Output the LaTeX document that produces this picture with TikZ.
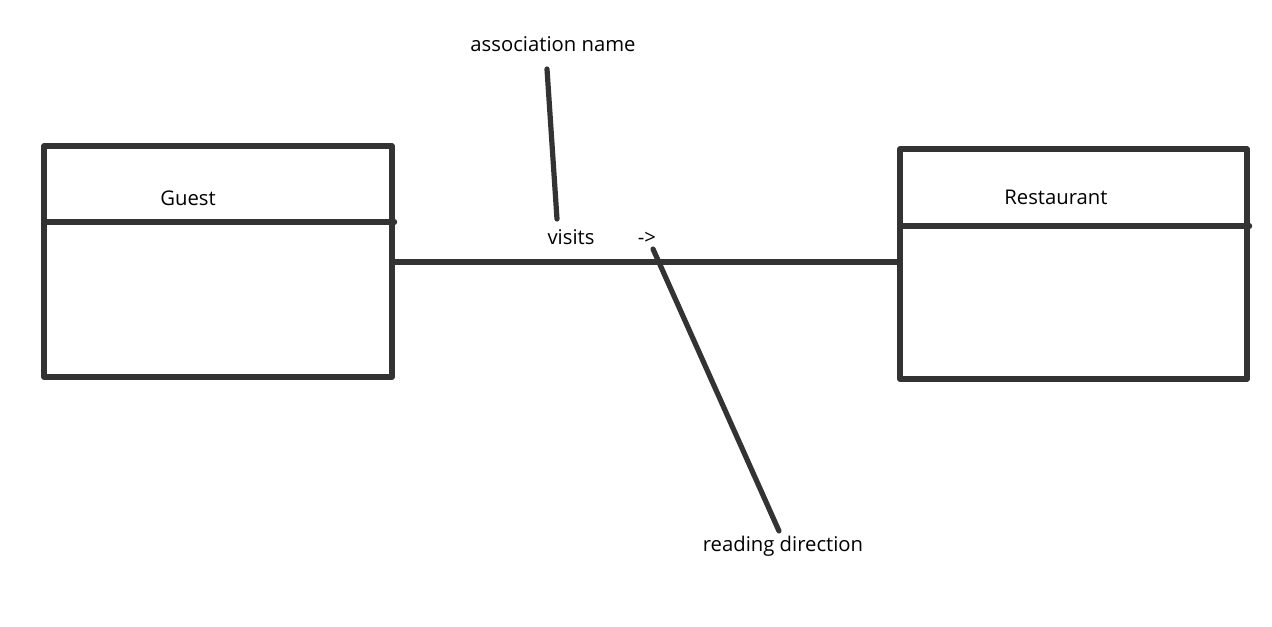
\documentclass[tikz,border=0pt]{standalone}
\usepackage{fontspec}
\setmainfont{Open Sans}
\definecolor{ink}{HTML}{333333}
\begin{document}
\begin{tikzpicture}[x=0.75pt,y=-0.75pt,
  thick line/.style={draw=ink,line width=3.9pt,line cap=round,line join=round},
  classbox/.style={thick line,rectangle,inner sep=0pt},
  lbl/.style={font=\fontsize{15.2pt}{17pt}\selectfont,text=black,inner sep=0pt}]
\useasboundingbox (0,0) rectangle (1272,626);
% class boxes
\node[classbox,minimum width=348*0.75pt,minimum height=231*0.75pt] (guest) at (218,261.5) {};
\node[classbox,minimum width=347*0.75pt,minimum height=230*0.75pt] (rest) at (1073.5,264) {};
\draw[thick line] ([xshift=2pt]guest.west |- 0,222) -- (guest.east |- 0,222);
\draw[thick line] ([xshift=2pt]rest.west |- 0,226) -- (rest.east |- 0,226);
% labels
\node[lbl] (gname) at (188,198) {Guest};
\node[lbl] (rname) at (1056,197) {Restaurant};
\node[lbl] (assoc) at (553,44) {association name};
\node[lbl] (visits) at (571,237) {visits};
\node[lbl] (arrow) at (647,238) {->};
\node[lbl] (read) at (783,546) {reading direction};
% association
\coordinate (aL) at (392,262);
\coordinate (aR) at (900,262);
\draw[thick line] (aL) -- (aR);
% pointer lines
\coordinate (p1a) at (547,69);
\coordinate (p1b) at (557,219);
\draw[thick line] (p1a) -- (p1b);
\coordinate (p2a) at (653,249);
\coordinate (p2b) at (779,531);
\draw[thick line] (p2a) -- (p2b);
\end{tikzpicture}
\end{document}
